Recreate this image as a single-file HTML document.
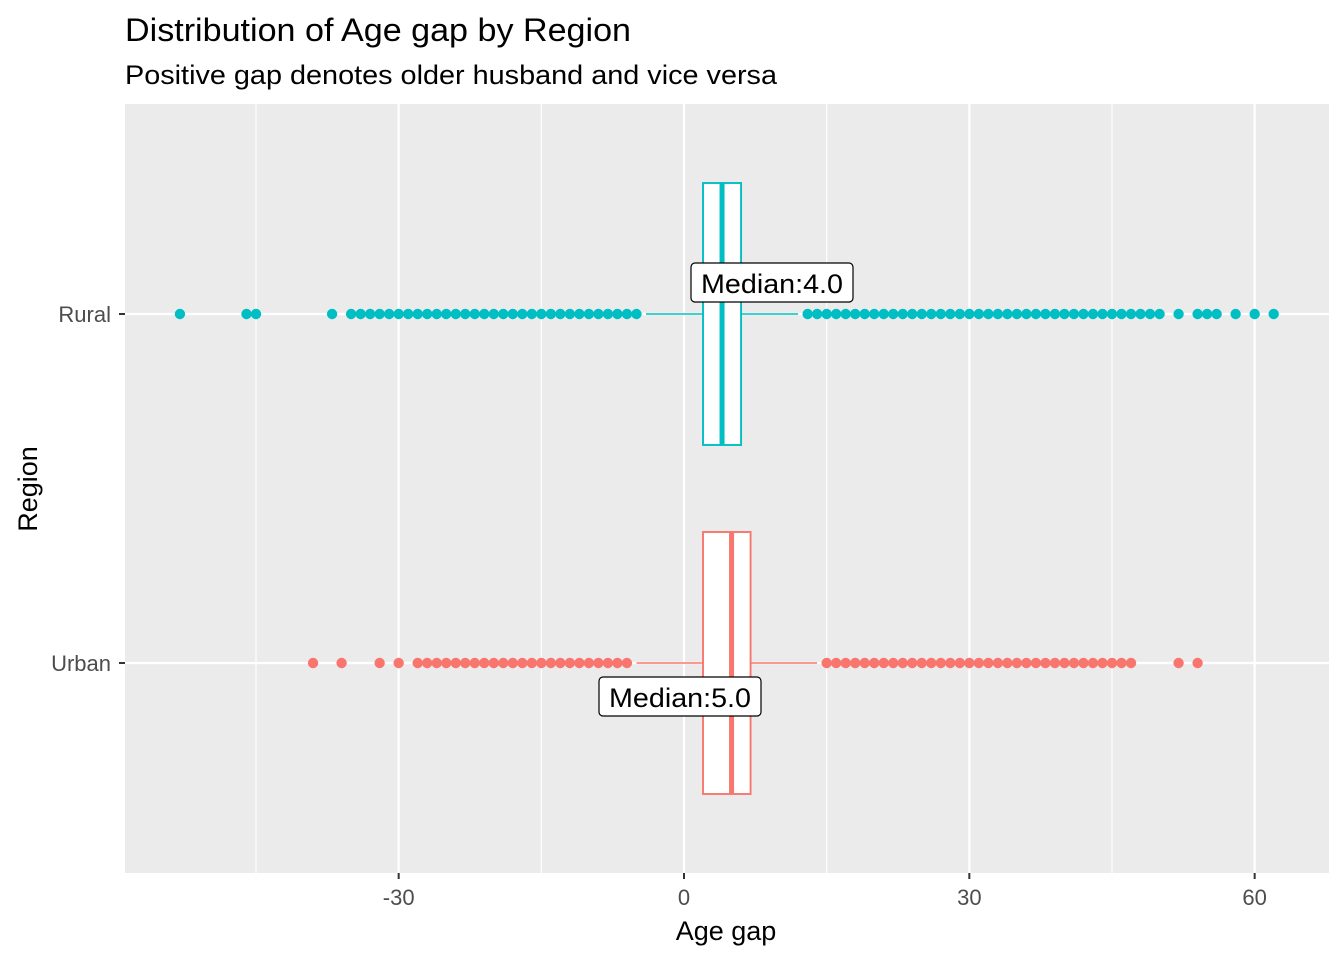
<!DOCTYPE html>
<html><head><meta charset="utf-8"><style>
body{margin:0;background:#fff;font-family:"Liberation Sans",Arial,sans-serif}
svg text{font-family:"Liberation Sans",Arial,sans-serif}
</style></head><body>
<svg id="chart" width="1344" height="960" xmlns="http://www.w3.org/2000/svg">
<text x="125" y="41" font-size="32" textLength="506" lengthAdjust="spacingAndGlyphs" fill="#000">Distribution of Age gap by Region</text>
<text x="125" y="84" font-size="27" textLength="652" lengthAdjust="spacingAndGlyphs" fill="#000">Positive gap denotes older husband and vice versa</text>
<rect x="125" y="104" width="1204" height="769" fill="#ebebeb"/>
<g id="grid"></g>
<g id="marks"></g>
<g id="axes"></g>
<text x="726" y="940" font-size="27" text-anchor="middle">Age gap</text>
<text transform="translate(37,489) rotate(-90)" font-size="27" text-anchor="middle">Region</text>
</svg>
<script>
const categories = ["Rural","Urban"];
const colors = {Rural:"#00bfc4", Urban:"#f8766d"};
const q1 = [2, 2];
const medians = [4, 5];
const q3 = [6, 7];
const whiskLow = [-4, -5];
const whiskHigh = [12, 14];
const outliersRural = [-53,-46,-45,-37,-35,-34,-33,-32,-31,-30,-29,-28,-27,-26,-25,-24,-23,-22,-21,-20,-19,-18,-17,-16,-15,-14,-13,-12,-11,-10,-9,-8,-7,-6,-5,13,14,15,16,17,18,19,20,21,22,23,24,25,26,27,28,29,30,31,32,33,34,35,36,37,38,39,40,41,42,43,44,45,46,47,48,49,50,52,54,55,56,58,60,62];
const outliersUrban = [-39,-36,-32,-30,-28,-27,-26,-25,-24,-23,-22,-21,-20,-19,-18,-17,-16,-15,-14,-13,-12,-11,-10,-9,-8,-7,-6,15,16,17,18,19,20,21,22,23,24,25,26,27,28,29,30,31,32,33,34,35,36,37,38,39,40,41,42,43,44,45,46,47,52,54];
const outliers = [outliersRural, outliersUrban];
const xTicks = [-30, 0, 30, 60];
const xMinor = [-45, -15, 15, 45];
const labelText = ["Median:4.0","Median:5.0"];

const NS="http://www.w3.org/2000/svg";
const X = v => 684 + v*9.511;
const Y = i => [314, 663][i];
const HALF = 131;
function mk(tag, attrs, parent){const e=document.createElementNS(NS,tag);for(const k in attrs)e.setAttribute(k,attrs[k]);parent.appendChild(e);return e;}
const grid=document.getElementById('grid'), marks=document.getElementById('marks'), axes=document.getElementById('axes');
xMinor.forEach(v=>{const l=mk('line',{x1:X(v),x2:X(v),y1:104,y2:873,stroke:'#fff','stroke-width':1.1},grid);

});
xTicks.forEach(v=>{const l=mk('line',{x1:X(v),x2:X(v),y1:104,y2:873,stroke:'#fff','stroke-width':2.2},grid);


const t=mk('line',{x1:X(v),x2:X(v),y1:873,y2:879,stroke:'#333','stroke-width':2},axes);


const tx=mk('text',{x:X(v),y:905,'font-size':22,'text-anchor':'middle',fill:'#4d4d4d'},axes);tx.textContent=v;

});
categories.forEach((c,i)=>{
const y=Y(i), col=colors[c];
const g=mk('line',{x1:125,x2:1329,y1:y,y2:y,stroke:'#fff','stroke-width':2.2},grid);


const t=mk('line',{x1:119,x2:125,y1:y,y2:y,stroke:'#333','stroke-width':2},axes);


const tx=mk('text',{x:111,y:y+8,'font-size':22,'text-anchor':'end',fill:'#4d4d4d'},axes);tx.textContent=c;


const w1=mk('line',{x1:X(whiskLow[i]),x2:X(q1[i]),y1:y,y2:y,stroke:col,'stroke-width':1.6},marks);


const w2=mk('line',{x1:X(q3[i]),x2:X(whiskHigh[i]),y1:y,y2:y,stroke:col,'stroke-width':1.6},marks);


const b=mk('rect',{x:X(q1[i]),y:y-HALF,width:X(q3[i])-X(q1[i]),height:2*HALF,fill:'#fff',stroke:col,'stroke-width':1.9},marks);


const m=mk('line',{x1:X(medians[i]),x2:X(medians[i]),y1:y-HALF,y2:y+HALF,stroke:col,'stroke-width':5},marks);


outliers[i].forEach(v=>{const p=mk('circle',{cx:X(v),cy:y,r:5.2,fill:col},marks);

});
});
const lbl=[{cx:772,cy:283},{cx:680,cy:697}];
labelText.forEach((s,i)=>{
const g=mk('g',{},marks);


mk('rect',{x:lbl[i].cx-81,y:lbl[i].cy-20,width:162,height:39,rx:4,fill:'#fff',stroke:'#000','stroke-width':1.2},g);
const t=mk('text',{x:lbl[i].cx,y:lbl[i].cy+10,'font-size':27,'text-anchor':'middle',fill:'#000',textLength:142,lengthAdjust:'spacingAndGlyphs'},g);t.textContent=s;
});
</script>
</body></html>
